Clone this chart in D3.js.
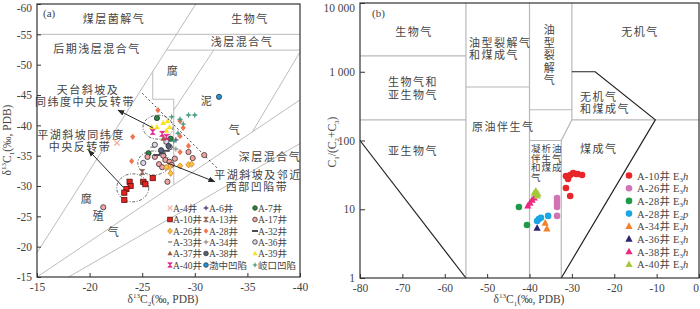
<!DOCTYPE html>
<html>
<head>
<meta charset="utf-8">
<script src="https://cdn.jsdelivr.net/npm/d3@7"></script>
<style>
  body { margin: 0; background: #fff; }
  svg text { font-family: "Liberation Serif", "Noto Sans CJK SC", serif; fill: #444; }
</style>
</head>
<body>
<svg id="chart" width="700" height="309"></svg>
<script>
// ---------- panel (a) data : [d13C2, d13C1] ----------
const namesA = ["A-4井", "A-6井", "A-7井", "A-10井", "A-13井", "A-17井", "A-26井", "A-28井", "A-32井",
  "A-33井", "A-34井", "A-36井", "A-37井", "A-38井", "A-39井", "A-40井", "渤中凹陷", "岐口凹陷"];
const a4 = [[-22.6, -37.1]];
const a6 = [[-28.2, -37.6]];
const a7 = [[-26.4, -41.2], [-27.7, -37.8], [-25.6, -35.4]];
const a10 = [[-23.8, -30.7], [-23.9, -30.0], [-23.5, -29.5], [-23.3, -28.9], [-23.3, -27.7], [-25.1, -30.7], [-25.3, -30.3], [-26.0, -31.3]];
const a13 = [[-25.0, -32.3], [-27.3, -37.4]];
const a17 = [[-25.5, -34.8], [-26.2, -34.8], [-27.0, -35.0], [-27.2, -34.3], [-27.6, -34.0], [-27.8, -33.5], [-28.1, -34.5],
  [-26.6, -33.6], [-26.9, -33.1], [-30.9, -35.1], [-27.4, -30.7], [-21.3, -26.5], [-29.8, -34.6], [-29.4, -35.6]];
const a26 = [[-27.6, -33.1], [-27.7, -32.1], [-28.6, -33.3], [-29.4, -33.5], [-29.7, -33.6], [-27.3, -33.1]];
const a28 = [[-26.5, -42.5], [-24.1, -38.1], [-24.0, -34.1], [-28.6, -40.7], [-28.9, -39.6], [-28.6, -38.2], [-29.4, -36.6], [-28.6, -35.6]];
const a32 = [[-26.4, -35.1], [-26.9, -35.4], [-27.3, -35.8]];
const a33 = [[-26.0, -36.4]];
const a34 = [[-27.8, -36.4], [-28.2, -36.1]];
const a36 = [[-26.2, -36.8], [-27.3, -37.3], [-27.6, -36.4], [-25.1, -33.8]];
const a37 = [[-27.0, -37.8]];
const a38 = [[-27.5, -36.6], [-26.8, -35.9]];
const a39 = [[-25.9, -39.7], [-26.4, -39.7], [-27.0, -40.4], [-27.4, -40.7], [-27.6, -39.7], [-27.3, -39.1]];
const a40 = [[-26.0, -38.9], [-26.9, -38.6], [-27.3, -38.1]];
const bozhong = [[-32.3, -44.7]];
const qikou = [[-27.8, -41.4], [-28.6, -41.0], [-28.9, -40.2], [-29.4, -41.7], [-30.0, -41.7], [-28.0, -37.4], [-28.4, -38.7]];
const valuesA = [a4, a6, a7, a10, a13, a17, a26, a28, a32, a33, a34, a36, a37, a38, a39, a40, bozhong, qikou];

// zone boundaries of panel (a), in data units
const zoneLinesA = [
  [[-15, -19], [-30.1, -60]],
  [[-15, -55], [-40, -55]],
  [[-27.3, -52.4], [-40, -52.4]],
  [[-31.8, -52.4], [-28, -42.5]],
  [[-40, -52.1], [-35.5, -39.0]],
  [[-15, -15], [-40, -44.2]],
  [[-18, -15], [-40, -37]],
  [[-26, -48.9], [-26, -44.3], [-28, -44.3], [-28, -30.2]]
];
const dottedA = [[-25.0, -45.3], [-32.1, -33.0]];
const arrowsA = [
  [[-26.0, -39.6], [-22.7, -42.5]],
  [[-23.2, -29.8], [-19.9, -35.9]],
  [[-27.4, -33.8], [-31.9, -30.7]]
];
const ellipsesA = [[-26.5, -39.7], [-26.1, -33.8], [-24.1, -29.7]];
const xTicksA = [-15, -20, -25, -30, -35, -40];
const yTicksA = [-60, -55, -50, -45, -40, -35, -30, -25, -20, -15];

// ---------- panel (b) data : [d13C1, C1/(C2+C3)] ----------
const namesB = ["A-10井", "A-26井", "A-28井", "A-28井", "A-34井", "A-36井", "A-38井", "A-40井"];
const layersB = ["3h", "3h", "3h", "2p", "3h", "3h", "3h", "3h"];
const b10 = [[-31.4, 30.4], [-30.9, 27.5], [-30.4, 31.5], [-29.7, 33.7], [-29.0, 32.6], [-28.6, 32.6], [-27.6, 31.5], [-31.4, 20.4], [-30.4, 15.6]];
const b26 = [[-33.5, 14.6], [-33.5, 13.2], [-33.5, 11.9], [-33.5, 10.8], [-33.5, 8.0]];
const b28h = [[-42.5, 10.8], [-40.6, 5.9]];
const b28p = [[-38.2, 6.75], [-37.8, 7.2], [-37.3, 7.5], [-35.6, 8.0]];
const b34 = [[-36.3, 6.3], [-35.9, 5.2]];
const b36 = [[-38.2, 5.3]];
const b38 = [[-40.4, 11.2], [-39.9, 12.3], [-39.4, 13.6], [-38.9, 14.6]];
const b40 = [[-38.9, 17.2], [-38.5, 18.4], [-38.0, 16.7], [-38.2, 15.6]];
const valuesB = [b10, b26, b28h, b28p, b34, b36, b38, b40];

const greyLinesB = [
  [[-55, 1], [-55, 10000]],
  [[-40, 1], [-40, 10000]],
  [[-80, 1700], [-55, 1700]],
  [[-80, 200], [-55, 200]],
  [[-55, 600], [-40, 600]],
  [[-40, 280], [-30, 280]],
  [[-30, 10000], [-30, 200], [-32.5, 100], [-32.5, 1]],
  [[-40, 100], [-32.5, 100]],
  [[-30, 200], [0, 200]]
];
const blackLinesB = [
  [[-30, 1000], [-24.5, 1000], [-10.3, 200], [-32.5, 1]],
  [[-80, 100], [-55, 1]]
];
const xTicksB = [-80, -70, -60, -50, -40, -30, -20, -10, 0];
const yTicksB = [1, 10, 100, 1000, 10000];
const yTickLabelsB = ["1", "10", "100", "1 000", "10 000"];

// ---------- styles ----------
const styleA = [
  { shape: "x", fill: "#f3a99c" }, { shape: "plus", fill: "#5b4a7c" }, { shape: "circle", fill: "#1d8a3c" },
  { shape: "square", fill: "#e3231c" }, { shape: "bowtie", fill: "#8c5a4c" }, { shape: "circle", fill: "#f5a3a3" },
  { shape: "diamond", fill: "#f6c544", stroke: "#d9822a" }, { shape: "diamond", fill: "#f07452" }, { shape: "dash", fill: "#4a4a55" },
  { shape: "sdash", fill: "#8a8a8a" }, { shape: "plus", fill: "#9a9a9a" }, { shape: "circle", fill: "#ddd6ea" },
  { shape: "tri", fill: "#a05a3a" }, { shape: "circle", fill: "#55617e" }, { shape: "tri", fill: "#f7e21f" },
  { shape: "bowtie", fill: "#e0248c" }, { shape: "circle", fill: "#1f95de" }, { shape: "star", fill: "#4f9e86" }
];
const styleB = [
  { shape: "circle", fill: "#e8262a" }, { shape: "circle", fill: "#d173b5" }, { shape: "circle", fill: "#1e9a48" },
  { shape: "circle", fill: "#1ca6e2" }, { shape: "tri", fill: "#f3822e" }, { shape: "tri", fill: "#2e2472" },
  { shape: "tri", fill: "#ec2a82" }, { shape: "tri", fill: "#a7c83a" }
];

const svg = d3.select("#chart");
svg.append("rect").attr("width", 700).attr("height", 309).attr("fill", "#fff");

const defs = svg.append("defs");
defs.append("marker").attr("id", "arr").attr("viewBox", "0 0 10 10").attr("refX", 9).attr("refY", 5)
  .attr("markerWidth", 7).attr("markerHeight", 7).attr("orient", "auto-start-reverse")
  .append("path").attr("d", "M0,1L10,5L0,9Z").attr("fill", "#2a2a2a");

function drawSymbol(g, st, x, y, r, outlined) {
  const s = st.shape;
  if (s === "circle") {
    g.append("circle").attr("cx", x).attr("cy", y).attr("r", r).attr("fill", st.fill)
      .attr("stroke", outlined ? "#333" : "none").attr("stroke-width", 0.8);
  } else if (s === "square") {
    g.append("rect").attr("x", x - r).attr("y", y - r).attr("width", 2 * r).attr("height", 2 * r)
      .attr("fill", st.fill).attr("stroke", "#5a1010").attr("stroke-width", 0.8);
  } else if (s === "diamond") {
    g.append("path").attr("d", `M${x},${y - r * 1.2}L${x + r},${y}L${x},${y + r * 1.2}L${x - r},${y}Z`)
      .attr("fill", st.fill).attr("stroke", st.stroke || "none").attr("stroke-width", 0.8);
  } else if (s === "tri") {
    g.append("path").attr("d", `M${x},${y - r * 1.2}L${x + r * 1.1},${y + r * 0.8}L${x - r * 1.1},${y + r * 0.8}Z`)
      .attr("fill", st.fill);
  } else if (s === "bowtie") {
    g.append("path").attr("d", `M${x - r},${y - r}L${x + r},${y - r}L${x - r},${y + r}L${x + r},${y + r}Z`)
      .attr("fill", st.fill).attr("stroke", st.fill).attr("stroke-width", 0.6);
  } else if (s === "x") {
    g.append("path").attr("d", `M${x - r},${y - r}L${x + r},${y + r}M${x + r},${y - r}L${x - r},${y + r}`)
      .attr("stroke", st.fill).attr("stroke-width", 1.2);
  } else if (s === "plus") {
    g.append("path").attr("d", `M${x - r},${y}H${x + r}M${x},${y - r}V${y + r}`)
      .attr("stroke", st.fill).attr("stroke-width", 1.3);
  } else if (s === "dash") {
    g.append("rect").attr("x", x - r * 1.3).attr("y", y - 1).attr("width", r * 2.6).attr("height", 2).attr("fill", st.fill);
  } else if (s === "sdash") {
    g.append("rect").attr("x", x - r * 0.9).attr("y", y - 0.7).attr("width", r * 1.8).attr("height", 1.4).attr("fill", st.fill);
  } else if (s === "star") {
    const k = r * 0.35;
    g.append("path").attr("d", `M${x},${y - r * 1.3}L${x + k},${y - k}L${x + r * 1.3},${y}L${x + k},${y + k}L${x},${y + r * 1.3}L${x - k},${y + k}L${x - r * 1.3},${y}L${x - k},${y - k}Z`)
      .attr("fill", st.fill);
  }
}

function styleAxis(g, size) {
  g.select(".domain").remove();
  g.selectAll(".tick line").attr("stroke", "#333");
  g.selectAll("text").attr("font-size", size).attr("font-family", "Liberation Serif, serif").attr("fill", "#333");
}

function label(g, x, y, txt, opt = {}) {
  return g.append("text").attr("x", x).attr("y", y).attr("text-anchor", opt.anchor || "middle")
    .attr("font-size", opt.size || 11).attr("letter-spacing", opt.ls === undefined ? 1.5 : opt.ls).text(txt);
}

// ================= panel (a) =================
const xA = d3.scaleLinear().domain([-15, -40]).range([37, 300]);
const yA = d3.scaleLinear().domain([-60, -15]).range([4, 277]);
const gA = svg.append("g");
const lineA = d3.line().x(d => xA(d[0])).y(d => yA(d[1]));

gA.selectAll("path.zone").data(zoneLinesA).join("path").attr("class", "zone")
  .attr("d", lineA).attr("fill", "none").attr("stroke", "#b4b4b4").attr("stroke-width", 0.9);
gA.append("path").attr("d", lineA(dottedA)).attr("fill", "none").attr("stroke", "#444")
  .attr("stroke-width", 1).attr("stroke-dasharray", "2,2.5");

// zone names
label(gA, 114, 23, "煤层菌解气");
label(gA, 250, 23, "生物气");
label(gA, 97, 53, "后期浅层混合气");
label(gA, 242, 46, "浅层混合气");
label(gA, 173, 75, "腐");
label(gA, 207, 105, "泥");
label(gA, 235, 134, "气");
label(gA, 270, 161, "深层混合气");
label(gA, 87, 203, "腐");
label(gA, 99, 220, "殖");
label(gA, 114, 236, "气");
label(gA, 88, 94, "天台斜坡及");
label(gA, 85, 106, "同纬度中央反转带");
label(gA, 81, 139, "平湖斜坡同纬度");
label(gA, 80, 151, "中央反转带");
label(gA, 258, 179, "平湖斜坡及邻近");
label(gA, 257, 191, "西部凹陷带");
label(gA, 43, 17, "(a)", { anchor: "start", size: 11, ls: 0 });

// ellipses
const ellR = [[15, 12], [16, 12], [16, 14]];
gA.selectAll("ellipse").data(ellipsesA).join("ellipse")
  .attr("cx", d => xA(d[0])).attr("cy", d => yA(d[1]))
  .attr("rx", (d, i) => ellR[i][0]).attr("ry", (d, i) => ellR[i][1])
  .attr("fill", "none").attr("stroke", "#555").attr("stroke-width", 0.9).attr("stroke-dasharray", "3,1.5,1,1.5");

// points
valuesA.forEach((pts, i) => {
  const g = gA.append("g");
  pts.forEach(p => drawSymbol(g, styleA[i], xA(p[0]), yA(p[1]), 2.6, true));
});

// arrows
gA.selectAll("path.arr").data(arrowsA).join("path").attr("class", "arr")
  .attr("d", lineA).attr("stroke", "#2a2a2a").attr("stroke-width", 1).attr("marker-end", "url(#arr)");

// legend
const legColX = [170, 206, 255];
const legRowY = [208, 219.5, 231, 242, 253.5, 265];
namesA.forEach((n, i) => {
  const cx = legColX[i % 3], cy = legRowY[Math.floor(i / 3)];
  const g = gA.append("g");
  drawSymbol(g, styleA[i], cx, cy, 2.3, true);
  label(g, cx + 3, cy + 3.5, n, { anchor: "start", size: 9.5, ls: 0 });
});

gA.append("rect").attr("x", 37).attr("y", 4).attr("width", 263).attr("height", 273)
  .attr("fill", "none").attr("stroke", "#333").attr("stroke-width", 1.2);

gA.append("g").attr("transform", "translate(0,277)")
  .call(d3.axisBottom(xA).tickValues(xTicksA).tickSize(-4).tickPadding(6).tickFormat(d => String(d)))
  .call(g => styleAxis(g, 11.5));
gA.append("g").attr("transform", "translate(37,0)")
  .call(d3.axisLeft(yA).tickValues(yTicksA).tickSize(-4).tickPadding(5).tickFormat(d => String(d)))
  .call(g => styleAxis(g, 11.5))
  .call(g => g.selectAll(".tick text").filter(d => d === -60).attr("dy", "0.62em"));

const tA = gA.append("text").attr("x", 163).attr("y", 303).attr("text-anchor", "middle").attr("font-size", 11.5);
tA.append("tspan").text("δ");
tA.append("tspan").attr("font-size", 7).attr("dy", -5).text("13");
tA.append("tspan").attr("dy", 5).text("C");
tA.append("tspan").attr("font-size", 7).attr("dy", 2.5).text("2");
tA.append("tspan").attr("dy", -2.5).text("(‰, PDB)");

const yAt = gA.append("text").attr("transform", "translate(11,140) rotate(-90)").attr("text-anchor", "middle").attr("font-size", 11.5);
yAt.append("tspan").text("δ");
yAt.append("tspan").attr("font-size", 7).attr("dy", -5).text("13");
yAt.append("tspan").attr("dy", 5).text("C");
yAt.append("tspan").attr("font-size", 7).attr("dy", 2.5).text("1");
yAt.append("tspan").attr("dy", -2.5).text("(‰, PDB)");

// ================= panel (b) =================
const xB = d3.scaleLinear().domain([-80, 0]).range([360, 699]);
const yB = d3.scaleLog().domain([1, 10000]).range([278, 3]);
const gB = svg.append("g");
const lineB = d3.line().x(d => xB(d[0])).y(d => yB(d[1]));

gB.selectAll("path.grey").data(greyLinesB).join("path").attr("class", "grey")
  .attr("d", lineB).attr("fill", "none").attr("stroke", "#b8b8b8").attr("stroke-width", 1.2);
gB.selectAll("path.blk").data(blackLinesB).join("path").attr("class", "blk")
  .attr("d", lineB).attr("fill", "none").attr("stroke", "#222").attr("stroke-width", 1.2);

label(gB, 372, 17, "(b)", { anchor: "start", size: 11, ls: 0 });
label(gB, 414, 36, "生物气");
label(gB, 413, 86, "生物气和");
label(gB, 413, 99, "亚生物气");
label(gB, 413, 155, "亚生物气");
label(gB, 469, 47, "油型裂解气", { anchor: "start" });
label(gB, 469, 59, "和煤成气", { anchor: "start" });
["油", "型", "裂", "解", "气"].forEach((c, i) => label(gB, 550, 34 + i * 12.5, c));
label(gB, 640, 36, "无机气");
label(gB, 580, 101, "无机气", { anchor: "start" });
label(gB, 580, 113, "和煤成气", { anchor: "start" });
label(gB, 472, 131, "原油伴生气", { anchor: "start" });
["凝析油", "伴生气", "和煤成", "气"].forEach((t, i) => label(gB, 531, 152 + i * 9.6, t, { anchor: "start", size: 9.5, ls: 1 }));
label(gB, 580, 153, "煤成气", { anchor: "start" });

valuesB.forEach((pts, i) => {
  const g = gB.append("g");
  pts.forEach(p => drawSymbol(g, styleB[i], xB(p[0]), yB(p[1]), 3.3, false));
});

// legend (b)
namesB.forEach((n, i) => {
  const cy = 175.5 + i * 12.7;
  const g = gB.append("g");
  drawSymbol(g, styleB[i], 629, cy, 3.3, false);
  label(g, 637, cy + 4, n, { anchor: "start", size: 10.5, ls: 0.2 });
  const t = g.append("text").attr("x", 673).attr("y", cy + 4).attr("font-size", 10.5);
  t.append("tspan").text("E");
  t.append("tspan").attr("font-size", 7).attr("dy", 2).text(layersB[i][0]);
  t.append("tspan").attr("dy", -2).attr("font-style", "italic").text(layersB[i].slice(1));
});

gB.append("rect").attr("x", 360).attr("y", 3).attr("width", 339).attr("height", 275)
  .attr("fill", "none").attr("stroke", "#333").attr("stroke-width", 1.2);

gB.append("g").attr("transform", "translate(0,278)")
  .call(d3.axisBottom(xB).tickValues(xTicksB).tickSize(-4).tickPadding(6).tickFormat(d => String(d)))
  .call(g => styleAxis(g, 11.5))
  .call(g => g.selectAll(".tick text").filter(d => d === 0).attr("text-anchor", "end").attr("dx", "-0.05em"));
gB.append("g").attr("transform", "translate(360,0)")
  .call(d3.axisLeft(yB).tickValues(yTicksB).tickSize(-5).tickPadding(5).tickFormat((d, i) => yTickLabelsB[i]))
  .call(g => styleAxis(g, 11.5))
  .call(g => g.selectAll(".tick text").filter(d => d === 10000).attr("dy", "0.7em"));

const tB = gB.append("text").attr("x", 529).attr("y", 303).attr("text-anchor", "middle").attr("font-size", 11.5);
tB.append("tspan").text("δ");
tB.append("tspan").attr("font-size", 7).attr("dy", -5).text("13");
tB.append("tspan").attr("dy", 5).text("C");
tB.append("tspan").attr("font-size", 7).attr("dy", 2.5).text("1");
tB.append("tspan").attr("dy", -2.5).text("(‰, PDB)");

const yBt = gB.append("text").attr("transform", "translate(336,142) rotate(-90)").attr("text-anchor", "middle").attr("font-size", 11.5);
yBt.append("tspan").text("C");
yBt.append("tspan").attr("font-size", 7).attr("dy", 2.5).text("1");
yBt.append("tspan").attr("dy", -2.5).text("/(C");
yBt.append("tspan").attr("font-size", 7).attr("dy", 2.5).text("2");
yBt.append("tspan").attr("dy", -2.5).text("+C");
yBt.append("tspan").attr("font-size", 7).attr("dy", 2.5).text("3");
yBt.append("tspan").attr("dy", -2.5).text(")");
</script>
</body>
</html>
